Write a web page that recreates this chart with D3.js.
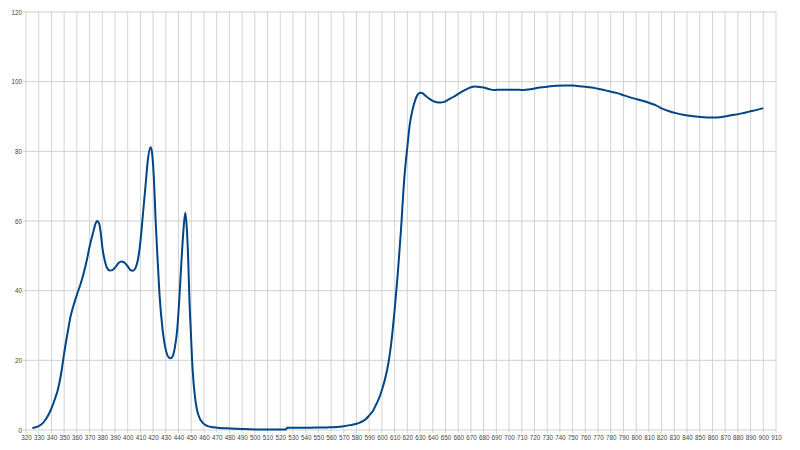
<!DOCTYPE html>
<html><head><meta charset="utf-8">
<script src="https://cdn.jsdelivr.net/npm/d3@7"></script>
<style>html,body{margin:0;padding:0;background:#fff;}svg{display:block;}</style>
</head><body><svg id="c" width="800" height="450"></svg>
<script>
const wavelengths = [325,327,330,333,335,338,340,343,345,348,350,353,355,358,360,363,365,368,370,373,375,376,377.5,379,380,382,384,386,388,390,393,395,397,400,402,404,406,408,410,412,414,416,418,419,420.5,422,423,425,427.5,430,432,433.8,435.5,437.2,439,440.5,442.5,444,445.3,446.5,447.7,448.5,449.6,451.1,452.9,455.6,459.5,463,467.4,472,478,485,496,510,524.5,525.5,540,549,557,564,570,575,580,583,587,590,593,595,597,600,603,605,607,610,612.5,615,617.5,620,622,624,626,628,630,632,634,637,640,643,646,649,652,656,661,666,670,673,677,680,684,688,694,700,705,711,718,724,731,737,745,750,758,765,772,778,785,791,798,805,811,816,821,826,832,837,842,849,855,861,866,871,876,883,889,895,900];
const values = [0.6,0.7,1.1,1.9,2.8,4.6,6.2,9.2,11.5,17,22,28.5,32.5,36.5,38.8,42,44.5,49,52.6,57,59.5,60,59.3,56,52.6,48.6,46.4,45.8,45.9,46.6,48,48.4,48.2,47,46,45.7,46.4,48.8,54,62,70,78,81.2,80,73,60,52.6,39,28.7,23,21,20.6,21.3,23.9,29,37,49.8,58,62.4,58,47.9,38,28.7,17.2,9.6,4.3,1.9,1.1,0.77,0.6,0.5,0.35,0.2,0.15,0.15,0.67,0.67,0.7,0.75,0.86,1.1,1.4,1.8,2.2,3,4.2,5.5,7,8.5,11.5,15.5,19,24,34.5,45,57.5,71.8,81.3,88,91.8,94.5,96.2,96.8,96.7,96,95.2,94.5,94.1,94,94.2,94.8,95.6,96.7,97.7,98.4,98.6,98.5,98.3,97.9,97.6,97.7,97.7,97.7,97.6,97.9,98.3,98.6,98.8,98.9,98.9,98.6,98.3,97.8,97.3,96.7,96,95.2,94.5,93.8,93.1,92.2,91.5,90.9,90.5,90.2,89.9,89.7,89.7,89.8,90.1,90.4,90.9,91.4,91.9,92.4];
const xTicks = d3.range(320, 911, 10);
const yTicks = [0,20,40,60,80,100,120];

const svg = d3.select('#c');
const L = 26, R = 776, T = 12, B = 430;
const x = d3.scaleLinear().domain([320, 910]).range([L, R]);
const y = d3.scaleLinear().domain([0, 120]).range([B, T]);

const grid = svg.append('g');
grid.selectAll('line.v').data(xTicks).join('line')
  .attr('x1', d => x(d)).attr('x2', d => x(d)).attr('y1', T).attr('y2', B + 3)
  .attr('stroke', '#d3d3d3').attr('stroke-width', 1);
grid.selectAll('line.h').data(yTicks).join('line')
  .attr('x1', L - 3).attr('x2', R).attr('y1', d => y(d)).attr('y2', d => y(d))
  .attr('stroke', '#d0d0d0').attr('stroke-width', 1);

const xa = svg.append('g').attr('transform', `translate(0,${B})`)
  .call(d3.axisBottom(x).tickValues(xTicks).tickSize(0).tickPadding(5.5).tickFormat(d3.format('d')));
const ya = svg.append('g').attr('transform', `translate(${L},0)`)
  .call(d3.axisLeft(y).tickValues(yTicks).tickSize(0).tickPadding(4).tickFormat(d3.format('d')));
[xa, ya].forEach(a => {
  a.select('.domain').remove();
  a.selectAll('text').attr('font-family', 'Liberation Sans, Arial, sans-serif')
    .attr('font-size', 6.3).attr('fill', '#444');
});

const pts = wavelengths.map((w, i) => [w, values[i]]);
svg.append('path').datum(pts)
  .attr('fill', 'none').attr('stroke', '#004586').attr('stroke-width', 2)
  .attr('stroke-linejoin', 'round')
  .attr('d', d3.line().x(d => x(d[0])).y(d => y(d[1])).curve(d3.curveMonotoneX));
</script></body></html>
